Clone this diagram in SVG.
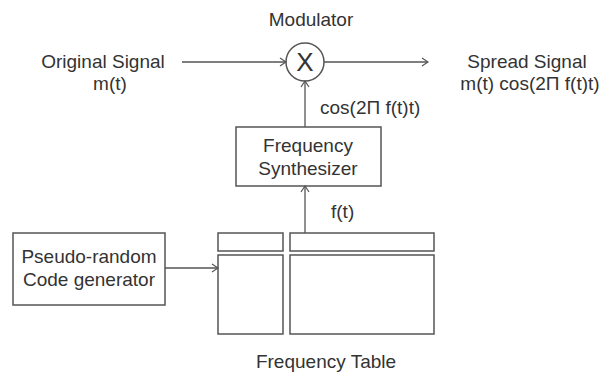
<svg xmlns="http://www.w3.org/2000/svg" width="605" height="373" viewBox="0 0 605 373">
<defs>
<style>
text{font-family:"Liberation Sans",Arial,sans-serif;font-size:19px;fill:#333}
.c{text-anchor:middle}
.box{fill:none;stroke:#555;stroke-width:1.5}
.ln{fill:none;stroke:#555;stroke-width:1.3;marker-end:url(#ah)}
</style>
<marker id="ah" markerWidth="8" markerHeight="10" refX="7" refY="5" orient="auto" markerUnits="userSpaceOnUse">
<path d="M1,1 L7,5 L1,9" fill="none" stroke="#555" stroke-width="1.2"/>
</marker>
</defs>
<rect width="605" height="373" fill="#fff"/>
<g id="modulator">
<text class="c" x="311" y="26">Modulator</text>
<circle cx="305" cy="62" r="19" class="box"/>
<text class="c" x="305" y="71" style="font-size:26px">X</text>
</g>
<g id="original">
<text class="c" x="103" y="68">Original Signal</text>
<text class="c" x="110" y="90">m(t)</text>
</g>
<g id="spread">
<text class="c" x="527" y="68">Spread Signal</text>
<text class="c" x="530" y="90">m(t) cos(2Π f(t)t)</text>
</g>
<g id="synth">
<rect x="236" y="127" width="145" height="59" class="box"/>
<text class="c" x="308" y="152">Frequency</text>
<text class="c" x="308" y="175">Synthesizer</text>
</g>
<g id="pseudo">
<rect x="13" y="233" width="152" height="72" class="box"/>
<text class="c" x="89" y="263">Pseudo-random</text>
<text class="c" x="89" y="286">Code generator</text>
</g>
<g id="table">
<rect x="218" y="233" width="65" height="18" class="box"/>
<rect x="290" y="233" width="144" height="18" class="box"/>
<rect x="218" y="255" width="65" height="79" class="box"/>
<rect x="290" y="255" width="144" height="79" class="box"/>
<text class="c" x="326" y="368">Frequency Table</text>
</g>
<g id="connectors">
<line x1="182" y1="62" x2="286" y2="62" class="ln"/>
<line x1="324" y1="62" x2="428" y2="62" class="ln"/>
<line x1="305" y1="127" x2="305" y2="81" class="ln"/>
<line x1="305" y1="233" x2="305" y2="186" class="ln"/>
<line x1="165" y1="268" x2="218" y2="268" class="ln"/>
<text x="320" y="114">cos(2Π f(t)t)</text>
<text x="331" y="218">f(t)</text>
</g>
</svg>
